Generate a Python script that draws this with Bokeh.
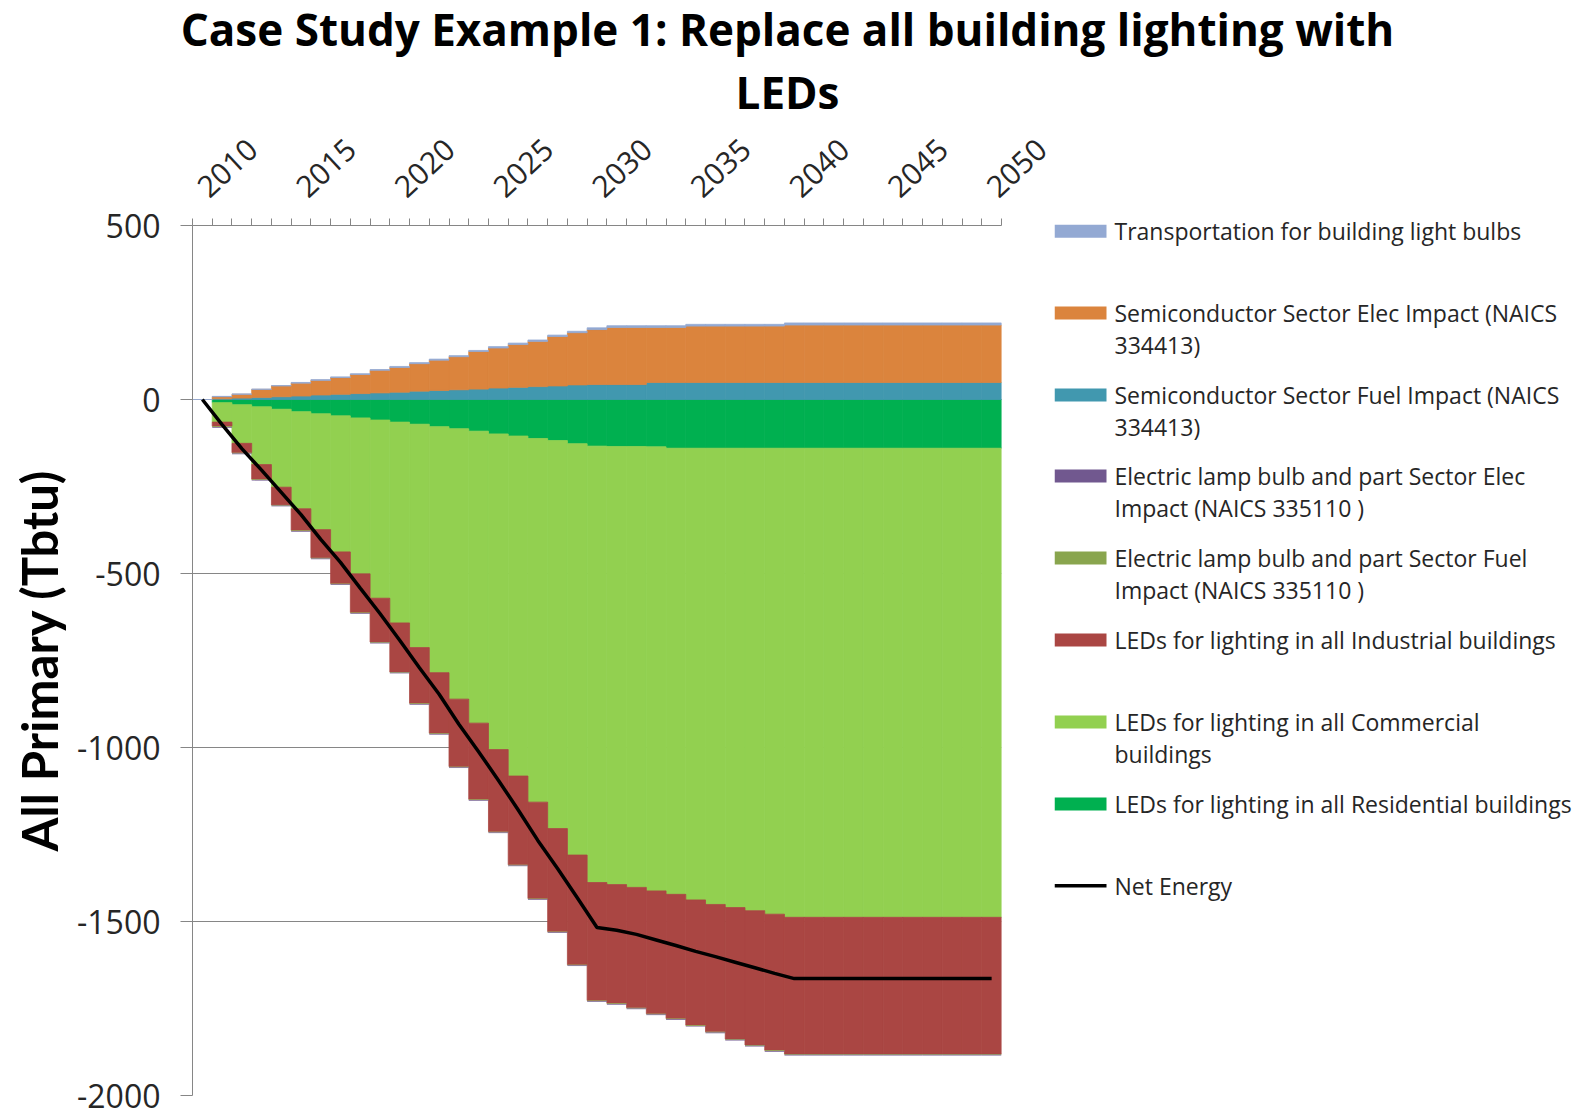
from bokeh.plotting import figure
from bokeh.models import ColumnDataSource, Range1d, FixedTicker
from bokeh.layouts import column, row
from bokeh.embed import file_html
from bokeh.resources import INLINE
from bokeh.core.properties import value

# ---------------- data (Tbtu) ----------------
years = list(range(2010, 2051))

residential = [0, -9, -15, -21, -28, -35, -41, -47, -53, -59,
               -65, -71, -78, -84, -91, -99, -105, -112, -118, -127,
               -134, -135, -135, -136, -140, -140, -140, -140, -140, -140,
               -140, -140, -140, -140, -140, -140, -140, -140, -140, -140, -140]
commercial = [0, -56, -111, -166, -224, -279, -333, -391, -448, -512,
              -577, -642, -707, -777, -839, -907, -977, -1045, -1115, -1182,
              -1254, -1259, -1267, -1276, -1282, -1298, -1311, -1320, -1329, -1339,
              -1348, -1348, -1348, -1348, -1348, -1348, -1348, -1348, -1348, -1348, -1348]
industrial = [0, -12, -27, -42, -51, -62, -81, -91, -111, -126,
              -141, -160, -174, -194, -219, -236, -255, -277, -296, -315,
              -339, -341, -346, -353, -357, -360, -366, -378, -386, -391,
              -393, -393, -393, -393, -393, -393, -393, -393, -393, -393, -393]
lamp_fuel = [0, -2, -2, -2, -2, -2, -2, -2, -2, -2,
             -2, -2, -2, -2, -2, -2, -2, -2, -2, -2,
             -2, -2, -2, -2, -2, -2, -2, -2, -2, -2,
             -2, -2, -2, -2, -2, -2, -2, -2, -2, -2, -2]
lamp_elec = [0, -2, -2, -2, -2, -2, -2, -2, -2, -2,
             -2, -2, -2, -2, -2, -2, -2, -2, -2, -2,
             -2, -2, -2, -2, -2, -2, -2, -2, -2, -2,
             -2, -2, -2, -2, -2, -2, -2, -2, -2, -2, -2]
semi_fuel = [0, 2, 4, 6, 8, 10, 13, 15, 17, 19,
             21, 24, 26, 28, 30, 33, 35, 37, 39, 42,
             43, 43, 43, 49, 49, 49, 49, 49, 49, 49,
             49, 49, 49, 49, 49, 49, 49, 49, 49, 49, 49]
semi_elec = [0, 6, 11, 23, 31, 37, 42, 48, 55, 65,
             71, 79, 87, 95, 108, 115, 123, 130, 142, 150,
             158, 164, 164, 158, 158, 162, 162, 162, 162, 162,
             165, 165, 165, 165, 165, 165, 165, 165, 165, 165, 165]
transport = [0, 1, 1, 1, 1, 2, 2, 2, 2, 2,
             3, 3, 3, 3, 3, 4, 4, 4, 4, 4,
             5, 5, 5, 5, 5, 5, 5, 5, 5, 5,
             6, 6, 6, 6, 6, 6, 6, 6, 6, 6, 6]
net_energy = [0, -72, -141, -203, -267, -331, -402, -468, -542, -615,
              -692, -771, -847, -933, -1012, -1094, -1179, -1267, -1348, -1432,
              -1517, -1525, -1537, -1553, -1569, -1586, -1601, -1617, -1633, -1649,
              -1664, -1664, -1664, -1664, -1664, -1664, -1664, -1664, -1664, -1664, -1664]

x_tick_years = [2010, 2015, 2020, 2025, 2030, 2035, 2040, 2045, 2050]
y_ticks = [-2000, -1500, -1000, -500, 0, 500]

title_lines = ["Case Study Example 1: Replace all building lighting with", "LEDs"]

legend_lines = [["Transportation for building light bulbs"],
                ["Semiconductor Sector Elec Impact (NAICS", "334413)"],
                ["Semiconductor Sector Fuel Impact (NAICS", "334413)"],
                ["Electric lamp bulb and part  Sector Elec", "Impact (NAICS 335110 )"],
                ["Electric lamp bulb and part  Sector Fuel", "Impact (NAICS 335110 )"],
                ["LEDs for lighting in all Industrial buildings"],
                ["LEDs for lighting in all Commercial", "buildings"],
                ["LEDs for lighting in all Residential buildings"],
                ["Net Energy"]]

# ---------------- styles ----------------
C_TRANS = "#93A9D3"
C_SELEC = "#DB843D"
C_SFUEL = "#4198AF"
C_LELEC = "#71588F"
C_LFUEL = "#89A54E"
C_IND = "#AA4643"
C_COM = "#92D050"
C_RES = "#00B050"
GRAY = "#868686"
TXT = "#262626"

src = ColumnDataSource(dict(year=years, residential=residential, commercial=commercial,
                            industrial=industrial, lamp_fuel=lamp_fuel, lamp_elec=lamp_elec,
                            semi_fuel=semi_fuel, semi_elec=semi_elec, transport=transport,
                            net=net_energy))

TITLE_H = 121
MAIN_W = 1054
MAIN_H = 1117 - TITLE_H
FRAME_TOP = 225      # page y of the plot frame top
FRAME_H = 870        # plot frame height

# ---------------- main plot ----------------
p = figure(width=MAIN_W, height=MAIN_H, x_range=Range1d(2009.5, 2050.5), y_range=Range1d(-2000, 500),
           x_axis_location="above", output_backend="svg", toolbar_location=None,
           min_border_left=192, min_border_right=MAIN_W - 192 - 809,
           min_border_top=FRAME_TOP - TITLE_H,
           min_border_bottom=MAIN_H - (FRAME_TOP - TITLE_H) - FRAME_H)
p.frame_align = False
p.outline_line_color = None
p.background_fill_color = "white"
p.border_fill_color = "white"

neg_cols = [C_RES, C_COM, C_IND, C_LFUEL, C_LELEC]
p.vbar_stack(["residential", "commercial", "industrial", "lamp_fuel", "lamp_elec"],
             x="year", width=1.0, source=src, fill_color=neg_cols, line_color=neg_cols,
             line_width=[0.8, 0.8, 0.8, 0.0, 0.0])
pos_cols = [C_SFUEL, C_SELEC, C_TRANS]
p.vbar_stack(["semi_fuel", "semi_elec", "transport"],
             x="year", width=1.0, source=src, fill_color=pos_cols, line_color=pos_cols,
             line_width=[0.8, 0.8, 0.8])
p.line("year", "net", source=src, line_color="black", line_width=3.5)

minor = [2009.5 + i for i in range(len(years) + 1)]
p.xaxis.ticker = FixedTicker(ticks=x_tick_years, minor_ticks=minor)
p.xaxis.major_tick_out = 0
p.xaxis.major_tick_in = 0
p.xaxis.minor_tick_out = 7
p.xaxis.minor_tick_in = 0
p.xaxis.minor_tick_line_color = GRAY
p.xaxis.axis_line_color = GRAY
p.xaxis.major_label_orientation = 0.75
p.xaxis.major_label_standoff = 27
p.xaxis.major_label_text_font = "Open Sans"
p.xaxis.major_label_text_font_size = "30px"
p.xaxis.major_label_text_color = TXT
p.xaxis.major_label_overrides = {y: str(y) for y in x_tick_years}
p.xgrid.visible = False

p.yaxis.ticker = FixedTicker(ticks=y_ticks, minor_ticks=[])
p.yaxis.major_tick_out = 12
p.yaxis.major_tick_in = 0
p.yaxis.major_tick_line_color = GRAY
p.yaxis.axis_line_color = GRAY
p.yaxis.major_label_standoff = 20
p.yaxis.major_label_text_font = "Open Sans"
p.yaxis.major_label_text_font_size = "32px"
p.yaxis.major_label_text_color = TXT
p.yaxis.major_label_overrides = {t: str(t) for t in y_ticks}
p.yaxis.axis_label = "All Primary (Tbtu)"
p.yaxis.axis_label_text_font = "Lato"
p.yaxis.axis_label_text_font_style = "bold"
p.yaxis.axis_label_text_font_size = "49px"
p.yaxis.axis_label_text_color = "black"
p.yaxis.axis_label_standoff = 6
p.ygrid.ticker = FixedTicker(ticks=y_ticks)
p.ygrid.grid_line_color = GRAY
p.ygrid.grid_line_width = 1

# ---------------- title ----------------
tf = figure(width=1587, height=TITLE_H, x_range=Range1d(0, 1587), y_range=Range1d(TITLE_H, 0),
            output_backend="svg", toolbar_location=None, min_border=0,
            x_axis_type=None, y_axis_type=None)
tf.frame_align = False
tf.outline_line_color = None
tf.grid.visible = False
tf.text(x=[787, 787], y=[28.6, 91], text=title_lines, text_align="center", text_baseline="middle",
        text_font=value("Open Sans"), text_font_style="bold", text_font_size="44px",
        text_color="black")

# ---------------- legend (page coordinates) ----------------
lf = figure(width=1587 - MAIN_W, height=MAIN_H, x_range=Range1d(MAIN_W, 1587),
            y_range=Range1d(1117, TITLE_H),
            output_backend="svg", toolbar_location=None, min_border=0,
            x_axis_type=None, y_axis_type=None)
lf.frame_align = False
lf.outline_line_color = None
lf.grid.visible = False
leg_y = [230.7, 312.6, 394.6, 475.5, 557.5, 639.4, 721.4, 803.4, 885.3]
leg_cols = [C_TRANS, C_SELEC, C_SFUEL, C_LELEC, C_LFUEL, C_IND, C_COM, C_RES]
lf.quad(left=[1054] * 8, right=[1106] * 8, top=[y - 6.5 for y in leg_y[:8]],
        bottom=[y + 6.5 for y in leg_y[:8]], fill_color=leg_cols, line_color=None)
lf.line(x=[1054, 1106], y=[leg_y[8], leg_y[8]], line_color="black", line_width=3.5)
tx, ty, tt = [], [], []
for yy, lines in zip(leg_y, legend_lines):
    for j, ln in enumerate(lines):
        tx.append(1114)
        ty.append(yy + 32 * j)
        tt.append(ln)
lf.text(x=tx, y=ty, text=tt, text_align="left", text_baseline="middle",
        text_font=value("Open Sans"), text_font_size="23px", text_color=TXT)

layout = column(tf, row(p, lf))
open("out.html", "w").write(file_html(layout, INLINE))
